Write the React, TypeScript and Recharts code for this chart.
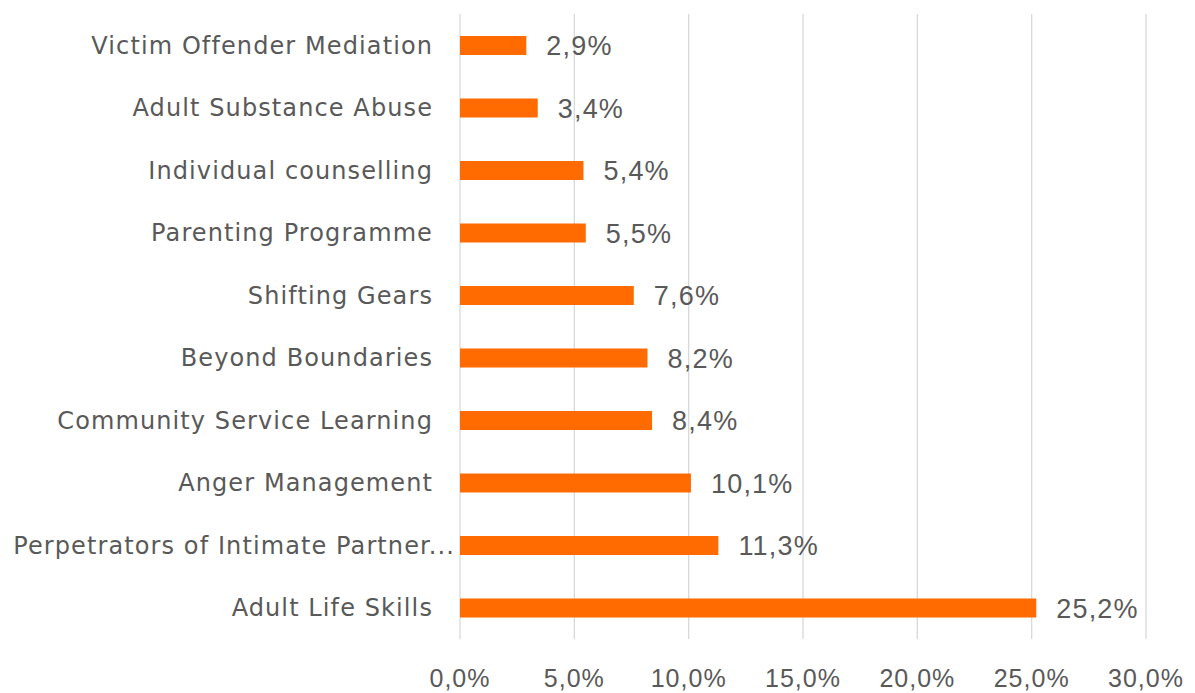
import React from 'react';
import { BarChart, Bar, XAxis, YAxis, CartesianGrid, LabelList } from 'recharts';

const categories = [
  'Victim Offender Mediation',
  'Adult Substance Abuse',
  'Individual counselling',
  'Parenting Programme',
  'Shifting Gears',
  'Beyond Boundaries',
  'Community Service Learning',
  'Anger Management',
  'Perpetrators of Intimate Partner...',
  'Adult Life Skills',
];
const values = [2.9, 3.4, 5.4, 5.5, 7.6, 8.2, 8.4, 10.1, 11.3, 25.2];
const xTicks = [0, 5, 10, 15, 20, 25, 30];

const data = categories.map((name, i) => ({ name, value: values[i] }));
const fmt = (v: number) => v.toFixed(1).replace('.', ',') + '%';
const CAT_FONT = '"DejaVu Sans", sans-serif';
const NUM_FONT = '"Liberation Sans", Arial, sans-serif';
const TEXT = '#595959';

const CatTick = (props: any) => {
  const { x, y, payload } = props;
  const label = String(payload.value);
  const truncated = label.endsWith('...');
  return (
    <text
      x={x + (truncated ? 22 : 0)}
      y={y}
      dy="0.355em"
      textAnchor="end"
      fill={TEXT}
      fontSize={24}
      fontFamily={CAT_FONT}
      letterSpacing={1.1}
    >
      {label}
    </text>
  );
};

export default function App() {
  return (
    <div style={{ position: 'absolute', left: 0, top: 0, width: 1195, height: 693, background: '#fff' }}>
      <BarChart
        width={1195}
        height={693}
        data={data}
        layout="vertical"
        margin={{ top: 14, right: 49, bottom: 0, left: 0 }}
        barCategoryGap={0}
      >
        <CartesianGrid horizontal={false} vertical={true} stroke="#d9d9d9" strokeWidth={1.3} />
        <XAxis
          type="number"
          domain={[0, 30]}
          ticks={xTicks}
          tickFormatter={fmt}
          axisLine={false}
          tickLine={false}
          tickSize={0}
          tickMargin={30}
          height={54}
          interval={0}
          tick={{ fill: TEXT, fontSize: 25, fontFamily: NUM_FONT, letterSpacing: 1 }}
        />
        <YAxis
          type="category"
          dataKey="name"
          width={460}
          axisLine={false}
          tickLine={false}
          tickSize={0}
          tickMargin={27}
          interval={0}
          tick={<CatTick />}
        />
        <Bar dataKey="value" fill="#FF6B00" barSize={19} isAnimationActive={false}>
          <LabelList
            dataKey="value"
            position="right"
            offset={20}
            formatter={(v: any) => fmt(Number(v))}
            style={{ fill: TEXT, fontSize: 27, fontFamily: NUM_FONT, letterSpacing: 1.2 }}
          />
        </Bar>
      </BarChart>
    </div>
  );
}
